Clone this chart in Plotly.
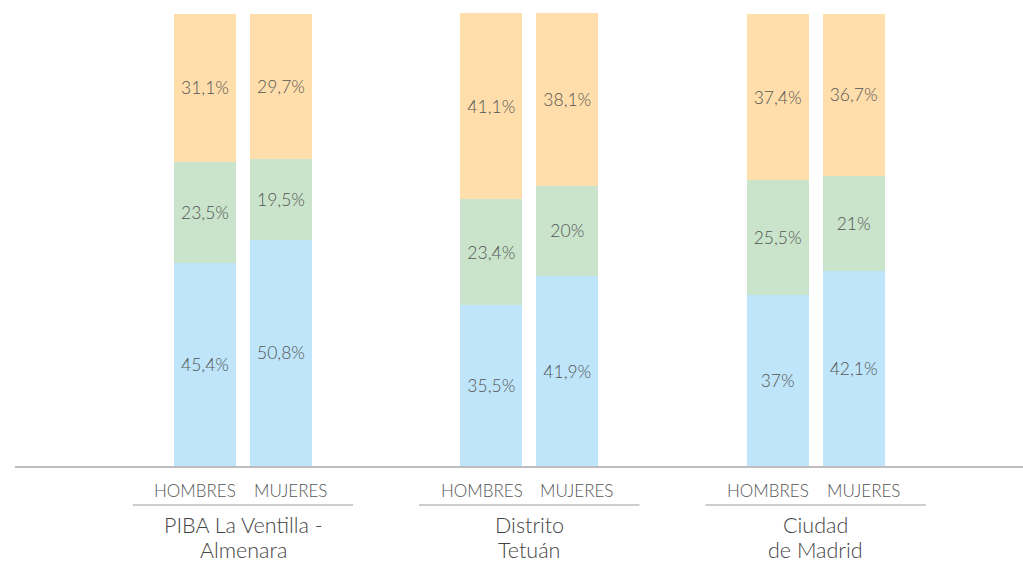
import plotly.graph_objects as go

groups = [["PIBA La Ventilla -", "Almenara"], ["Distrito", "Tetuán"], ["Ciudad", "de Madrid"]]
sexes = ["HOMBRES", "MUJERES"]

# bar heights (share, %), order: G1-H, G1-M, G2-H, G2-M, G3-H, G3-M
blue_vals = [44.8, 50.0, 35.5, 41.9, 37.8, 43.0]
green_vals = [22.4, 17.7, 23.4, 20.0, 25.3, 21.0]
orange_vals = [32.6, 32.0, 41.1, 38.1, 36.6, 35.8]

# printed labels
blue_text = ["45,4%", "50,8%", "35,5%", "41,9%", "37%", "42,1%"]
green_text = ["23,5%", "19,5%", "23,4%", "20%", "25,5%", "21%"]
orange_text = ["31,1%", "29,7%", "41,1%", "38,1%", "37,4%", "36,7%"]

colors = {"blue": "#bee5f9", "green": "#c9e4cb", "orange": "#ffdeab"}
FONT = "Lato"
TXT = "#555555"

offset = 0.1327
label_offset = 0.166
bar_w = 0.2166
xs = []
for g in range(len(groups)):
    for s in range(len(sexes)):
        xs.append(g + (offset if s else -offset))

fig = go.Figure()
for vals, txt, col in [(blue_vals, blue_text, colors["blue"]),
                       (green_vals, green_text, colors["green"]),
                       (orange_vals, orange_text, colors["orange"])]:
    fig.add_trace(go.Bar(
        x=xs, y=vals, width=bar_w, text=txt,
        textposition="inside", insidetextanchor="middle",
        textfont=dict(family=FONT, size=17.5, color=TXT, weight=300),
        marker=dict(color=col, line=dict(width=0)),
        hoverinfo="skip", showlegend=False,
    ))

annotations = []
shapes = []
for g, lines in enumerate(groups):
    for s, sx in enumerate(sexes):
        annotations.append(dict(
            x=g + (label_offset if s else -label_offset), xref="x", y=-0.053, yref="paper",
            text=sx, showarrow=False, yanchor="middle", xanchor="center",
            font=dict(family=FONT, size=17, color=TXT, weight=300)))
    shapes.append(dict(type="line", xref="x", yref="paper",
                       x0=g - 0.385, x1=g + 0.385, y0=-0.0861, y1=-0.0861,
                       line=dict(color="#bdbdbd", width=1.5)))
    for i, (line, yy) in enumerate(zip(lines, [-0.1302, -0.1854])):
        annotations.append(dict(
            x=g, xref="x", y=yy, yref="paper", text=line, showarrow=False,
            yanchor="middle", xanchor="center", align="center",
            font=dict(family=FONT, size=21.5, color="#444444", weight=300)))

fig.update_layout(
    barmode="stack",
    width=1023, height=562,
    margin=dict(l=15, r=0, t=13, b=96),
    paper_bgcolor="white", plot_bgcolor="white",
    xaxis=dict(range=[-0.7964, 2.7244], showline=True, linecolor="#bdbdbd",
               linewidth=1.5, showticklabels=False, ticks="", showgrid=False,
               zeroline=False, fixedrange=True),
    yaxis=dict(range=[0, 100], visible=False, showgrid=False, zeroline=False,
               fixedrange=True),
    annotations=annotations, shapes=shapes,
    uniformtext=dict(mode=False),
)

fig.write_html("out.html", config={"displayModeBar": False},
               post_script="document.body.style.margin='0';document.body.style.overflow='hidden';")
